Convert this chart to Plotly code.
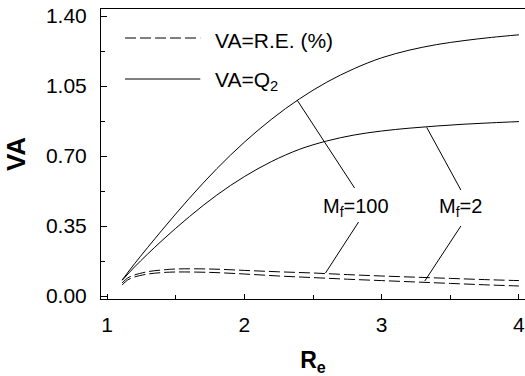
import plotly.graph_objects as go

# Data
re_q = [1.11, 1.2, 1.4, 1.6, 1.8, 2.0, 2.2, 2.4, 2.6, 2.8, 3.0, 3.2, 3.4, 3.6, 3.8, 4.0]
q2_mf100 = [0.08, 0.161, 0.329, 0.489, 0.637, 0.769, 0.885, 0.985, 1.069, 1.137, 1.191, 1.229, 1.257, 1.277, 1.293, 1.306]
q2_mf2 = [0.078, 0.145, 0.277, 0.397, 0.505, 0.597, 0.673, 0.733, 0.775, 0.805, 0.825, 0.839, 0.85, 0.859, 0.866, 0.872]

re_re = [1.11, 1.15, 1.2, 1.3, 1.4, 1.5, 1.75, 2.0, 2.25, 2.5, 2.75, 3.0, 3.25, 3.5, 3.75, 4.0]
re_mf100 = [0.065, 0.09, 0.105, 0.122, 0.13, 0.135, 0.135, 0.128, 0.121, 0.115, 0.107, 0.10, 0.094, 0.088, 0.082, 0.077]
re_mf2 = [0.055, 0.08, 0.095, 0.11, 0.117, 0.12, 0.118, 0.11, 0.1, 0.092, 0.084, 0.077, 0.07, 0.063, 0.056, 0.05]

FONT = "Liberation Sans, Arial, sans-serif"

fig = go.Figure()
for y in (q2_mf100, q2_mf2):
    fig.add_trace(go.Scatter(x=re_q, y=y, mode="lines", line=dict(color="black", width=1, shape="spline"),
                             showlegend=False, hoverinfo="skip"))
for y in (re_mf100, re_mf2):
    fig.add_trace(go.Scatter(x=re_re, y=y, mode="lines",
                             line=dict(color="black", width=1, dash="11px,4px", shape="spline"),
                             showlegend=False, hoverinfo="skip"))

# legend (manual)
fig.add_shape(type="line", x0=1.131, x1=1.679, y0=1.29, y1=1.29, line=dict(color="black", width=1, dash="11px,4px"))
fig.add_shape(type="line", x0=1.131, x1=1.679, y0=1.085, y1=1.085, line=dict(color="black", width=1))
fig.add_annotation(x=1.77, y=1.28, text="VA=R.E. (%)", showarrow=False, xanchor="left", yanchor="middle",
                   font=dict(size=21, color="black", family=FONT))
fig.add_annotation(x=1.77, y=1.075, text="VA=Q<sub>2</sub>", showarrow=False, xanchor="left", yanchor="middle",
                   font=dict(size=21, color="black", family=FONT))

# leader lines
leaders = [
    (2.384, 0.98, 2.803, 0.54),
    (2.832, 0.37, 2.591, 0.115),
    (3.328, 0.843, 3.577, 0.53),
    (3.577, 0.35, 3.314, 0.075),
]
for x0, y0, x1, y1 in leaders:
    fig.add_shape(type="line", x0=x0, y0=y0, x1=x1, y1=y1, line=dict(color="black", width=1))
fig.add_annotation(x=2.81, y=0.445, text="M<sub>f</sub>=100", showarrow=False,
                   font=dict(size=20, color="black", family=FONT))
fig.add_annotation(x=3.577, y=0.445, text="M<sub>f</sub>=2", showarrow=False,
                   font=dict(size=20, color="black", family=FONT))

fig.update_layout(
    width=525, height=376,
    margin=dict(l=101, r=0, t=9, b=77),
    plot_bgcolor="white", paper_bgcolor="white",
    font=dict(family=FONT, color="black", size=21),
)
fig.update_xaxes(range=[0.956, 4.044], tickvals=[1, 2, 3, 4], ticktext=["1", "2", "3", "4"],
                 ticks="inside", ticklen=5, tickcolor="black", showline=True, linecolor="black", linewidth=1,
                 mirror=True, showgrid=False, zeroline=False, automargin=False, ticklabelstandoff=7,
                 tickfont=dict(size=21), ticklabeloverflow="allow",
                 minor=dict(tickvals=[1.5, 2.5, 3.5], ticks="inside", ticklen=4, tickcolor="black"),
                 title=dict(text="<b>R<sub>e</sub></b>", font=dict(size=23, family=FONT), standoff=17))
fig.update_yaxes(range=[-0.015, 1.435], tickvals=[0, 0.35, 0.7, 1.05, 1.4],
                 ticktext=["0.00", "0.35", "0.70", "1.05", "1.40"],
                 ticks="inside", ticklen=6, tickcolor="black", showline=True, linecolor="black", linewidth=1,
                 mirror=False, showgrid=False, zeroline=False, ticklabelstandoff=9, automargin=False,
                 tickfont=dict(size=21),
                 minor=dict(tickvals=[0.175, 0.525, 0.875, 1.225], ticks="inside", ticklen=4, tickcolor="black"),
                 title=dict(text="<b>VA</b>", font=dict(size=26, family=FONT), standoff=12))

fig.write_html("out.html")
